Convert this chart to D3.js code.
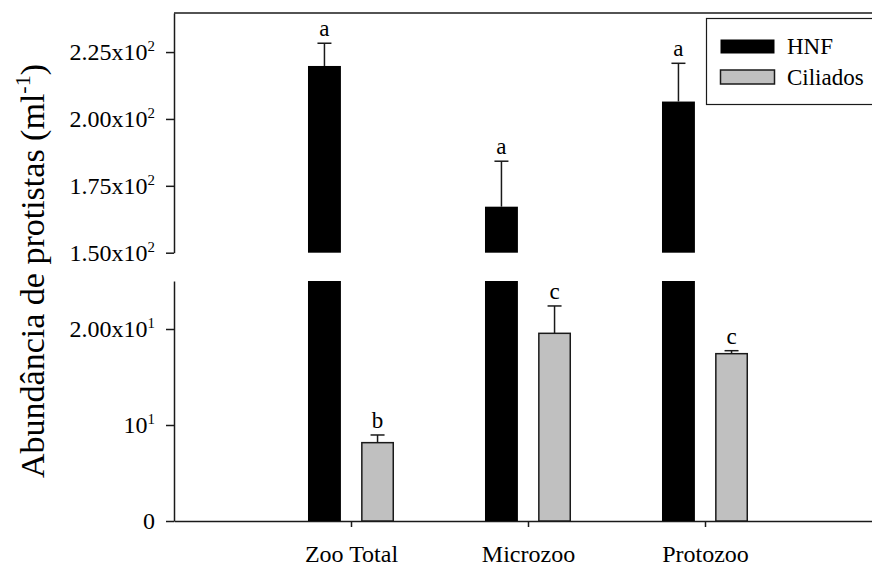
<!DOCTYPE html>
<html>
<head>
<meta charset="utf-8">
<script src="https://cdn.jsdelivr.net/npm/d3@7"></script>
<style>
  html, body { margin: 0; padding: 0; background: #fff; }
  svg { display: block; }
  svg text { font-family: "Liberation Serif", "Times New Roman", serif !important; }
</style>
</head>
<body>
<svg id="chart" width="872" height="567"></svg>
<script>
// ---- data ----
const categories = ["Zoo Total", "Microzoo", "Protozoo"];
const seriesNames = ["HNF", "Ciliados"];
const hnfValues = [219.8, 167.2, 206.5];
const hnfErrors = [8.5, 17.0, 14.3];
const ciliadosValues = [8.16, 19.55, 17.43];
const ciliadosErrors = [0.8, 2.85, 0.31];
const hnfLetters = ["a", "a", "a"];
const ciliadosLetters = ["b", "c", "c"];
const upperTicks = [150, 175, 200, 225];
const upperTickLabels = [["1.50x10", "2"], ["1.75x10", "2"], ["2.00x10", "2"], ["2.25x10", "2"]];
const lowerTicks = [0, 10, 20];
const lowerTickLabels = [["0", ""], ["10", "1"], ["2.00x10", "1"]];
const yTitle = ["Abundância de protistas (ml", "-1", ")"];

// ---- layout ----
const FONT = "Liberation Serif, Times New Roman, serif";
const svg = d3.select("#chart").attr("font-family", FONT);
const ink = "#1a1a1a";
const gray = "#c0c0c0";
const xLeft = 174;

const x = d3.scaleLinear().domain([0, 4]).range([xLeft, 882]);
const yUp = d3.scaleLinear().domain([150, 239.6]).range([252.7, 13]);
const yLo = d3.scaleLinear().domain([0, 25]).range([521, 281]);
const barW = 0.186;  // in x units
const off = 0.15;

function styleAxis(g) {
  g.attr("font-family", FONT);
  g.selectAll("path, line").attr("stroke", ink).attr("stroke-width", 1.5);
  g.selectAll("text").attr("fill", "#000").attr("font-family", FONT);
}

function supLabels(g, labels, fs) {
  g.selectAll(".tick text").each(function(d, i) {
    const t = d3.select(this);
    t.text(null).attr("font-size", fs);
    t.append("tspan").text(labels[i][0]);
    if (labels[i][1]) {
      t.append("tspan").text(labels[i][1]).attr("font-size", fs * 0.62).attr("dy", -fs * 0.38);
    }
  });
}

// upper axis
const gUp = svg.append("g").attr("transform", `translate(${xLeft},0)`)
  .call(d3.axisLeft(yUp).tickValues(upperTicks).tickSize(8).tickSizeOuter(0).tickPadding(11));
styleAxis(gUp);
supLabels(gUp, upperTickLabels, 24);

// lower axis
const gLo = svg.append("g").attr("transform", `translate(${xLeft},0)`)
  .call(d3.axisLeft(yLo).tickValues(lowerTicks).tickSize(8).tickSizeOuter(0).tickPadding(11));
styleAxis(gLo);
supLabels(gLo, lowerTickLabels, 24);

// top frame line
svg.append("line").attr("x1", xLeft).attr("x2", 872).attr("y1", yUp.range()[1]).attr("y2", yUp.range()[1])
  .attr("stroke", ink).attr("stroke-width", 1.5);

// x axis
const gX = svg.append("g").attr("transform", `translate(0,${yLo(0)})`)
  .call(d3.axisBottom(x).tickValues([1, 2, 3]).tickSize(6).tickSizeOuter(0).tickPadding(18)
    .tickFormat(d => categories[d - 1]));
styleAxis(gX);
gX.selectAll("text").attr("font-size", 24);

const idx = categories.map((c, i) => i);

// HNF bars: upper panel
svg.append("g").selectAll("rect").data(idx).join("rect")
  .attr("x", i => x(i + 1 - off - barW / 2))
  .attr("width", x(barW) - x(0))
  .attr("y", i => yUp(hnfValues[i]))
  .attr("height", i => yUp(150) - yUp(hnfValues[i]))
  .attr("fill", "#000");
// HNF bars: lower panel (clipped at top of lower panel)
svg.append("g").selectAll("rect").data(idx).join("rect")
  .attr("x", i => x(i + 1 - off - barW / 2))
  .attr("width", x(barW) - x(0))
  .attr("y", i => yLo(Math.min(hnfValues[i], yLo.domain()[1])))
  .attr("height", i => yLo(0) - yLo(Math.min(hnfValues[i], yLo.domain()[1])))
  .attr("fill", "#000");
// Ciliados bars
svg.append("g").selectAll("rect").data(idx).join("rect")
  .attr("x", i => x(i + 1 + off - barW / 2) + 0.75)
  .attr("width", x(barW) - x(0) - 1.5)
  .attr("y", i => yLo(ciliadosValues[i]))
  .attr("height", i => yLo(0) - yLo(ciliadosValues[i]))
  .attr("fill", gray).attr("stroke", ink).attr("stroke-width", 1.5);

// error bars
function errBars(values, errors, scale, dx, letters) {
  const g = svg.append("g");
  idx.forEach(i => {
    const cx = x(i + 1 + dx);
    const y0 = scale(values[i]);
    const y1 = scale(values[i] + errors[i]);
    g.append("line").attr("x1", cx).attr("x2", cx).attr("y1", y0).attr("y2", y1)
      .attr("stroke", ink).attr("stroke-width", 1.5);
    g.append("line").attr("x1", cx - 7).attr("x2", cx + 7).attr("y1", y1).attr("y2", y1)
      .attr("stroke", ink).attr("stroke-width", 1.5);
    g.append("text").attr("x", cx).attr("y", y1 - 7).attr("text-anchor", "middle")
      .attr("font-size", 23).text(letters[i]);
  });
}
errBars(hnfValues, hnfErrors, yUp, -off, hnfLetters);
errBars(ciliadosValues, ciliadosErrors, yLo, off, ciliadosLetters);

// y title
const title = svg.append("text")
  .attr("transform", "translate(44,271) rotate(-90)")
  .attr("text-anchor", "middle").attr("font-size", 34);
title.append("tspan").text(yTitle[0]);
title.append("tspan").text(yTitle[1]).attr("font-size", 22).attr("dy", -14);
title.append("tspan").text(yTitle[2]).attr("dy", 14);

// legend
const lg = svg.append("g");
lg.append("rect").attr("x", 706.5).attr("y", 18.5).attr("width", 175).attr("height", 86)
  .attr("fill", "#fff").attr("stroke", ink).attr("stroke-width", 1.2);
const legendFill = ["#000", gray];
seriesNames.forEach((s, i) => {
  const yy = 39.5 + i * 30.5;
  lg.append("rect").attr("x", 720.5).attr("y", yy).attr("width", 54).attr("height", 14)
    .attr("fill", legendFill[i]).attr("stroke", ink).attr("stroke-width", i ? 1.5 : 0);
  lg.append("text").attr("x", 787).attr("y", yy + 14.5).attr("font-size", 23).text(s);
});
</script>
</body>
</html>
